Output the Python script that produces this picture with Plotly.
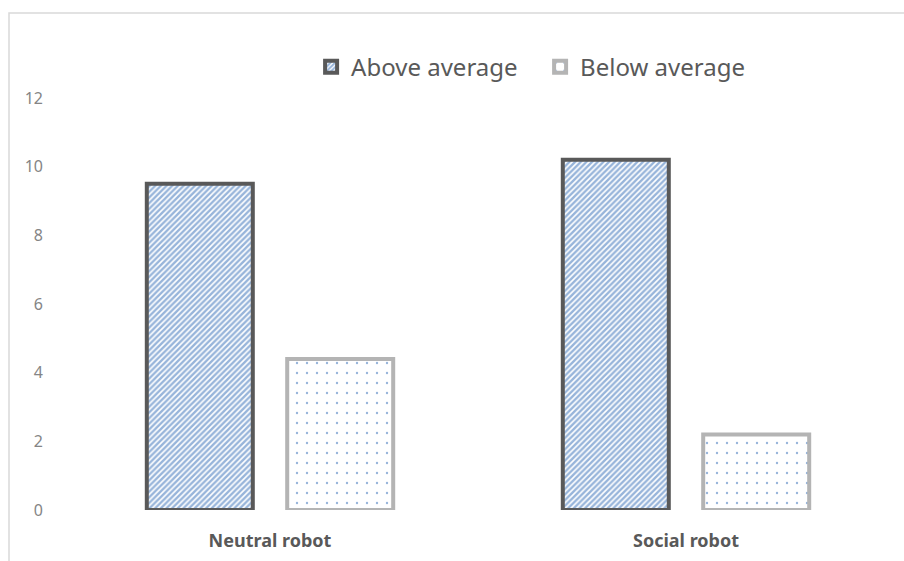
import plotly.graph_objects as go

categories = ["Neutral robot", "Social robot"]
above_average = [9.5, 10.2]
below_average = [4.4, 2.2]
y_ticks = [0, 2, 4, 6, 8, 10, 12]

BLUE = "#2f6ab5"
FONT = "Noto Sans"

fig = go.Figure()
fig.add_trace(go.Bar(
    name="Above average", x=categories, y=above_average,
    marker=dict(
        color="white",
        line=dict(color="#595959", width=4),
        pattern=dict(shape="/", fgcolor=BLUE, bgcolor="white", size=4, solidity=0.6),
    ),
))
fig.add_trace(go.Bar(
    name="Below average", x=categories, y=below_average,
    marker=dict(
        color="white",
        line=dict(color="#b4b4b4", width=4),
        pattern=dict(shape=".", fgcolor=BLUE, bgcolor="white", size=10, solidity=0.045),
    ),
))

fig.update_layout(
    width=904, height=561,
    margin=dict(l=62, r=10, t=98, b=51),
    paper_bgcolor="white", plot_bgcolor="white",
    barmode="group", bargap=0.325, bargroupgap=0.245,
    font=dict(family=FONT, color="#7f7f7f"),
    showlegend=True,
    legend=dict(
        orientation="h", x=0.2994, y=1.075, xanchor="left", yanchor="middle",
        font=dict(size=24, color="#595959", family=FONT),
        bgcolor="rgba(0,0,0,0)",
        entrywidth=184, entrywidthmode="pixels",
    ),
    xaxis=dict(
        showgrid=False, showline=False, zeroline=False,
        tickfont=dict(size=18, color="#595959", family=FONT, weight="bold"),
        ticks="", ticklabelstandoff=18,
    ),
    yaxis=dict(
        range=[0, 12], tickvals=y_ticks, showgrid=False, showline=False, zeroline=False,
        tickfont=dict(size=16, color="#858585", family=FONT),
        ticks="", ticklabelstandoff=18,
    ),
    shapes=[dict(
        type="rect", xref="paper", yref="paper",
        x0=(9 - 62) / 832, x1=1.2, y0=-0.3, y1=(510 - 13) / 412,
        line=dict(color="#d9d9d9", width=1.5), fillcolor="rgba(0,0,0,0)", layer="below",
    )],
)

fig.write_html("out.html")
